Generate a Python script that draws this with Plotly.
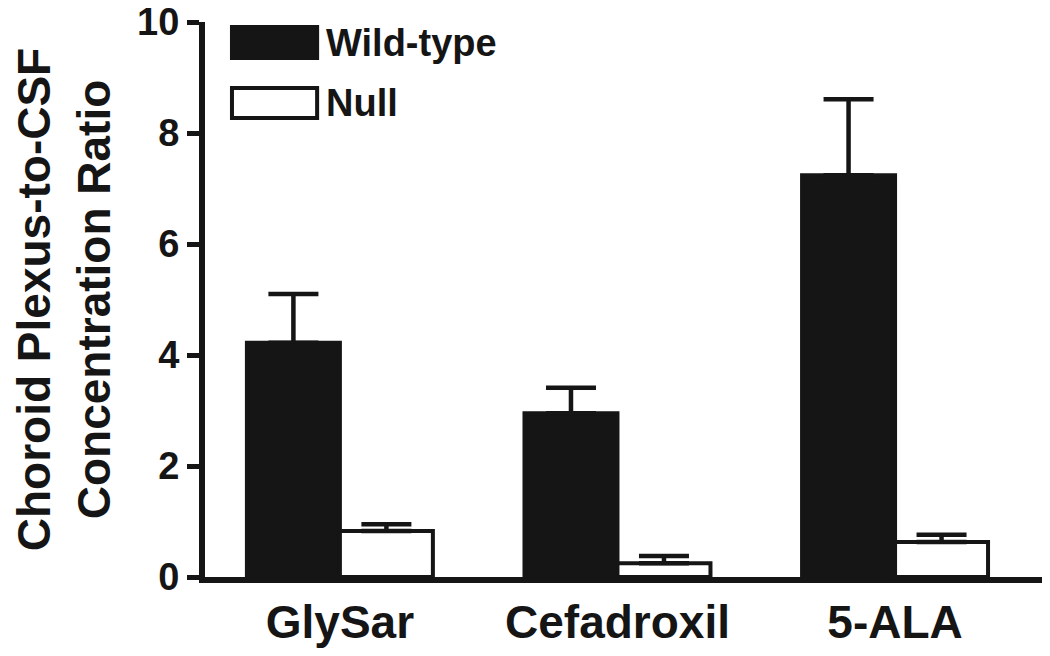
import plotly.graph_objects as go

# data
compounds = ["GlySar", "Cefadroxil", "5-ALA"]
series_names = ["Wild-type", "Null"]
wild_type = [4.22, 2.95, 7.24]
wild_type_err = [0.88, 0.46, 1.37]
null = [0.83, 0.25, 0.63]
null_err = [0.12, 0.13, 0.13]
y_ticks = [0, 2, 4, 6, 8, 10]

INK = "#151515"
FONT = "Liberation Sans, Arial, sans-serif"

fig = go.Figure()

fig.add_trace(go.Bar(
    x=compounds,
    y=wild_type,
    name=series_names[0],
    marker={"color": INK, "line": {"color": INK, "width": 4}},
    error_y={"type": "data", "array": wild_type_err, "arrayminus": [0, 0, 0],
             "symmetric": False, "color": INK, "thickness": 4.5, "width": 25},
))

fig.add_trace(go.Bar(
    x=compounds,
    y=null,
    name=series_names[1],
    marker={"color": "white", "line": {"color": INK, "width": 4}},
    error_y={"type": "data", "array": null_err, "arrayminus": [0, 0, 0],
             "symmetric": False, "color": INK, "thickness": 4.5, "width": 25},
))

# hand-drawn legend, big boxes like the original
legend_items = [
    (series_names[0], INK, 0.991, 0.935),
    (series_names[1], "white", 0.881, 0.827),
]
for name, fill, y1, y0 in legend_items:
    fig.add_shape(
        type="rect", xref="x domain", yref="y domain",
        x0=0.032, x1=0.133, y0=y0, y1=y1, opacity=1,
        fillcolor=fill, line={"color": INK, "width": 4},
    )
    fig.add_annotation(
        xref="x domain", yref="y domain",
        x=0.141, y=(y0 + y1) / 2, text=name, showarrow=False,
        xanchor="left", yanchor="middle",
        font={"family": FONT, "size": 38, "color": INK, "weight": "bold"},
    )

# page body adds ~8px offset, so margins are nudged up/left
fig.update_layout(
    template="simple_white",
    width=1050,
    height=656,
    margin={"l": 197, "r": 10, "t": 14, "b": 87},
    barmode="group",
    bargap=0.33,
    bargroupgap=0,
    showlegend=False,
    paper_bgcolor="white",
    plot_bgcolor="white",
    font={"family": FONT, "color": INK},
)

fig.update_xaxes(
    range=[-0.486, 2.551], automargin=False,
    showline=True, linewidth=6, linecolor=INK,
    ticks="", ticklabelstandoff=0,
    tickfont={"family": FONT, "size": 46, "color": INK, "weight": "bold"},
)

fig.update_yaxes(
    range=[0, 10], automargin=False,
    tickvals=y_ticks, ticklabeloverflow="allow",
    showline=True, linewidth=6, linecolor=INK,
    ticks="outside", ticklen=12, tickwidth=5, tickcolor=INK,
    showgrid=False, zeroline=False,
    tickfont={"family": FONT, "size": 38, "color": INK, "weight": "bold"},
    title={"text": "Choroid Plexus-to-CSF<br>Concentration Ratio",
           "font": {"family": FONT, "size": 46, "color": INK, "weight": "bold"},
           "standoff": 17},
)

fig.write_html("out.html")
